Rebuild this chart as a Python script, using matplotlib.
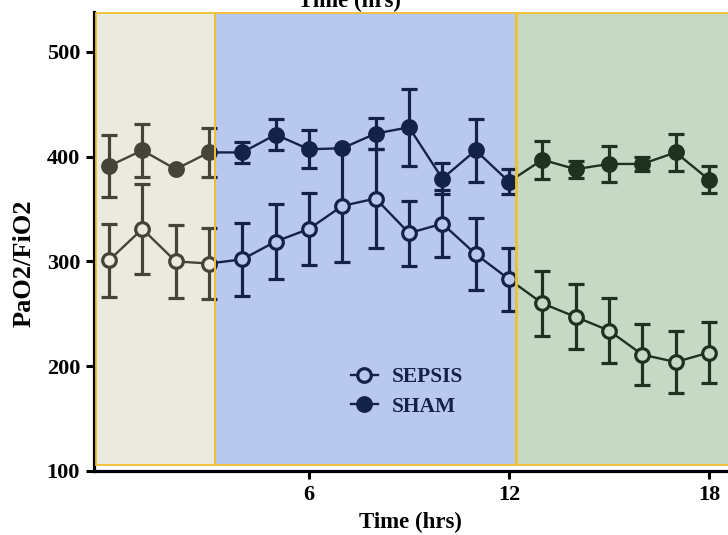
import matplotlib
matplotlib.use("Agg")
import matplotlib.pyplot as plt
from matplotlib.patches import Rectangle
from matplotlib.lines import Line2D
import numpy as np

plt.rcParams["font.family"] = ["Liberation Serif", "DejaVu Serif"]
plt.rcParams["font.weight"] = "bold"

# --- datos ---
horas = list(range(19))
sham_media = [391, 406, 388, 404, 404, 421, 407, 408, 422, 428, 379, 406, 376, 397, 388, 393, 393, 404, 378]
sham_sem = [30, 25, 0, 23, 10, 15, 18, 0, 15, 37, 15, 30, 12, 18, 8, 17, 7, 18, 13]
sepsis_media = [301, 331, 300, 298, 302, 319, 331, 353, 360, 327, 336, 307, 283, 260, 247, 234, 211, 204, 213]
sepsis_sem = [35, 43, 35, 34, 35, 36, 34, 54, 47, 31, 32, 34, 30, 31, 31, 31, 29, 30, 29]

# fases (inicio, fin, color del velo)
fases = [(-0.39, 3.18, "#C5C5A6"),
         (3.18, 12.22, "#3964CC"),
         (12.24, 19.5, "#59925B")]

fig = plt.figure(figsize=(7.28, 5.35), dpi=100)
ax = fig.add_axes([94 / 728, 64 / 535, 634 / 728, 459 / 535])

def serie(media, sem, relleno):
    x = np.array(horas)
    m = np.array(media)
    e = np.array(sem)
    sel = e > 0
    ax.errorbar(x[sel], m[sel], yerr=e[sel], fmt="none", ecolor="k",
                elinewidth=2.3, capsize=5.8, capthick=2.3, zorder=3)
    ax.plot(x, m, "-o", color="k", lw=1.7, ms=9.8, mfc=relleno, mec="k",
            mew=2.3, zorder=4)

serie(sepsis_media, sepsis_sem, "white")
serie(sham_media, sham_sem, "k")

handles = [Line2D([], [], color="k", lw=1.7, marker="o", ms=9.8, mfc="white", mec="k", mew=2.3),
           Line2D([], [], color="k", lw=1.7, marker="o", ms=9.8, mfc="k", mec="k", mew=2.3)]
leg = ax.legend(handles, ["SEPSIS", "SHAM"], loc="center left",
                bbox_to_anchor=(0.405, 0.172), frameon=False, fontsize=15.5,
                handlelength=1.25, handletextpad=0.65, labelspacing=0.45,
                borderpad=0, borderaxespad=0)
leg.set_zorder(2)

y0, y1 = 105.5, 537
for a, b, c in fases:
    ax.add_patch(Rectangle((a, y0), b - a, y1 - y0, facecolor=c, alpha=0.35,
                           edgecolor="none", zorder=10))
    ax.add_patch(Rectangle((a, y0), b - a, y1 - y0, facecolor="none",
                           edgecolor="#F0C030", lw=1.3, zorder=11))

ax.set_xlim(-0.45, 18.57)
ax.set_ylim(100, 538)
ax.set_xticks([6, 12, 18])
ax.set_yticks([100, 200, 300, 400, 500])
ax.tick_params(width=2.2, length=6, labelsize=16, pad=4)
for s in ["top", "right"]:
    ax.spines[s].set_visible(False)
for s in ["left", "bottom"]:
    ax.spines[s].set_linewidth(2.3)

fig.text(410 / 728, 1 - 522 / 535, "Time (hrs)", ha="center", va="center",
         fontsize=16.5, fontweight="bold")
# titulo superior, recortado en el original
fig.text(349 / 728, 1 - 7 / 535, "Time (hrs)", ha="center", va="baseline",
         fontsize=16.5, fontweight="bold")
fig.text(24 / 728, 1 - 263 / 535, "PaO2/FiO2", ha="center", va="center",
         rotation=90, fontsize=19, fontweight="bold")

fig.savefig("out.png", dpi=100)
